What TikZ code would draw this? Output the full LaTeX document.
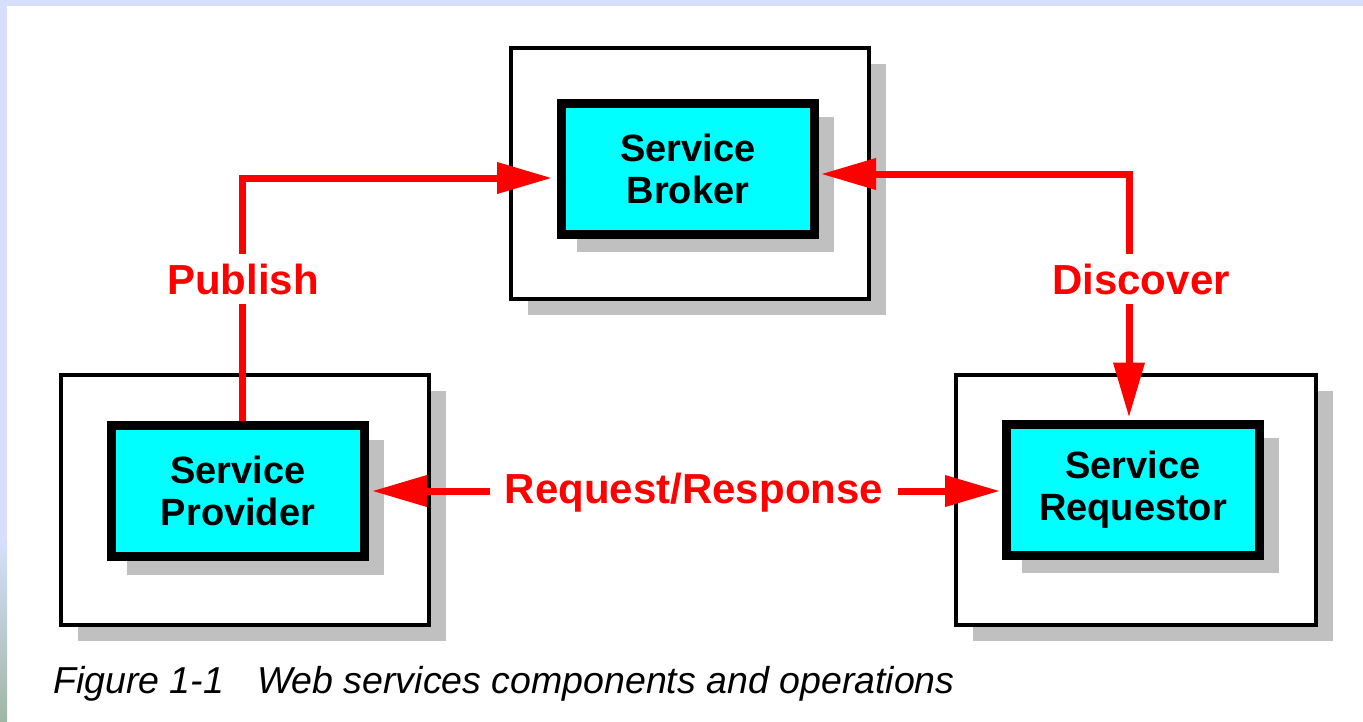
\documentclass[tikz,border=0pt]{standalone}
\usepackage{fontspec}
\setmainfont{Liberation Sans}
\usetikzlibrary{arrows.meta, shadows}
\definecolor{boxcyan}{RGB}{0,255,255}
\definecolor{shadowgray}{RGB}{192,192,192}
\definecolor{slideblue}{RGB}{214,224,252}
\definecolor{slidegreen}{RGB}{160,182,165}
\tikzstyle{outerbox}=[draw, line width=4pt, fill=white, drop shadow={shadow xshift=17pt, shadow yshift=-16pt, fill=shadowgray, opacity=1}]
\tikzstyle{svc}=[draw, line width=9pt, fill=boxcyan, align=center, minimum width=253pt, minimum height=131pt, font=\fontsize{38}{42}\selectfont\bfseries, drop shadow={shadow xshift=17.5pt, shadow yshift=-16pt, fill=shadowgray, draw=shadowgray, line width=4pt, opacity=1}]
\tikzstyle{oplabel}=[text=red, fill=white, inner xsep=15pt, inner ysep=10pt, anchor=base, font=\fontsize{42}{48}\selectfont\bfseries]
\tikzstyle{link}=[draw=red, line width=7pt]

\begin{document}
\begin{tikzpicture}[x=1pt, y=-1pt, >={Triangle[length=55pt,width=30pt]}]
      \useasboundingbox (0,0) rectangle (1363,721);
      % slide background
      \fill[white] (0,0) rectangle (1363,721);
      \fill[slideblue] (0,0) rectangle (1363,6);
      \fill[slideblue] (0,0) rectangle (7,540);
      \shade[top color=slideblue, bottom color=slidegreen] (0,540) rectangle (7,721);
      % containers
      \node [outerbox, minimum width=358pt, minimum height=251pt] (brokerbox) at (690,173.5) {};
      \node [outerbox, minimum width=368pt, minimum height=250pt] (providerbox) at (245,500) {};
      \node [outerbox, minimum width=360pt, minimum height=250pt] (requestorbox) at (1136,500) {};
      % components
      \node [svc] (broker) at (688,168.5) {Service\\Broker};
      \node [svc] (provider) at (238,491) {Service\\Provider};
      \node [svc] (requestor) at (1133,489.5) {Service\\Requestor};
      % operations
      \draw[link, ->, shorten >=5pt] ([xshift=4pt]provider.north) |- ([yshift=-9.5pt]broker.west);
      \draw[link, <->, shorten <=2pt, shorten >=2pt] ([yshift=-5.5pt]broker.east) -| ([xshift=-4pt]requestor.north);
      \draw[link, <->, shorten <=3pt, shorten >=2pt] (provider.east) -- (provider.east -| requestor.west);
      \node [oplabel] (publish) at (243,294) {Publish};
      \node [oplabel] (discover) at (1141,294) {Discover};
      \node [oplabel] (reqresp) at (694,503) {Request/Response};
      % caption
      \node [anchor=base west, inner sep=0pt, font=\fontsize{37.5}{40}\selectfont\itshape] (caption) at (53,693) {Figure 1-1\hspace{33pt}Web services components and operations};
\end{tikzpicture}
\end{document}
